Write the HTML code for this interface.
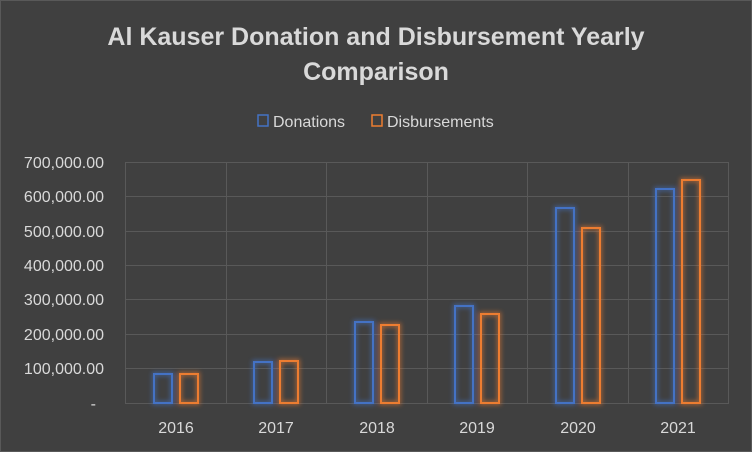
<!DOCTYPE html>
<html><head><style>
body{margin:0;background:#404040;}
svg{display:block;font-family:"Liberation Sans",sans-serif;}
</style></head><body>
<svg width="752" height="452" viewBox="0 0 752 452">
<defs>
<filter id="gb" x="-50%" y="-50%" width="200%" height="200%"><feGaussianBlur stdDeviation="2.5"/></filter>
</defs>
<rect x="0" y="0" width="752" height="452" fill="#404040"/>
<rect x="0.5" y="0.5" width="751" height="451" fill="none" stroke="#595959"/>
<text x="376" y="45" fill="#d9d9d9" font-size="25" font-weight="bold" text-anchor="middle">Al Kauser Donation and Disbursement Yearly</text>
<text x="376" y="80" fill="#d9d9d9" font-size="25" font-weight="bold" text-anchor="middle">Comparison</text>
<rect x="258" y="115" width="10" height="11" fill="none" stroke="#4472c4" stroke-width="1.5"/>
<text x="273" y="127" fill="#d9d9d9" font-size="16">Donations</text>
<rect x="372" y="115" width="10" height="11" fill="none" stroke="#ed7d31" stroke-width="1.5"/>
<text x="387" y="127" fill="#d9d9d9" font-size="16">Disbursements</text>
<g stroke="#595959" stroke-width="1">
<line x1="125" y1="162.5" x2="729" y2="162.5"/>
<line x1="125" y1="196.5" x2="729" y2="196.5"/>
<line x1="125" y1="231.5" x2="729" y2="231.5"/>
<line x1="125" y1="265.5" x2="729" y2="265.5"/>
<line x1="125" y1="299.5" x2="729" y2="299.5"/>
<line x1="125" y1="334.5" x2="729" y2="334.5"/>
<line x1="125" y1="368.5" x2="729" y2="368.5"/>
<line x1="125" y1="403.5" x2="729" y2="403.5"/>
<line x1="125.5" y1="162" x2="125.5" y2="403"/>
<line x1="226.5" y1="162" x2="226.5" y2="403"/>
<line x1="326.5" y1="162" x2="326.5" y2="403"/>
<line x1="427.5" y1="162" x2="427.5" y2="403"/>
<line x1="527.5" y1="162" x2="527.5" y2="403"/>
<line x1="628.5" y1="162" x2="628.5" y2="403"/>
<line x1="728.5" y1="162" x2="728.5" y2="403"/>
</g>
<g fill="#d9d9d9" font-size="16" text-anchor="end">
<text x="104" y="168">700,000.00</text>
<text x="104" y="202">600,000.00</text>
<text x="104" y="237">500,000.00</text>
<text x="104" y="271">400,000.00</text>
<text x="104" y="305">300,000.00</text>
<text x="104" y="340">200,000.00</text>
<text x="104" y="374">100,000.00</text>
<text x="96" y="409">-</text>
</g>
<g fill="#d9d9d9" font-size="16" text-anchor="middle">
<text x="176" y="433">2016</text>
<text x="276" y="433">2017</text>
<text x="377" y="433">2018</text>
<text x="477" y="433">2019</text>
<text x="578" y="433">2020</text>
<text x="678" y="433">2021</text>
</g>
<g fill="none" stroke-width="4" opacity="0.6" filter="url(#gb)">
<g stroke="#4472c4">
<rect x="154" y="374" width="18" height="29"/><rect x="254" y="362" width="18" height="41"/><rect x="355" y="322" width="18" height="81"/><rect x="455" y="306" width="18" height="97"/><rect x="556" y="208" width="18" height="195"/><rect x="656" y="189" width="18" height="214"/>
</g>
<g stroke="#ed7d31">
<rect x="180" y="374" width="18" height="29"/><rect x="280" y="361" width="18" height="42"/><rect x="381" y="325" width="18" height="78"/><rect x="481" y="314" width="18" height="89"/><rect x="582" y="228" width="18" height="175"/><rect x="682" y="180" width="18" height="223"/>
</g>
</g>
<g fill="none" stroke-width="2">
<g stroke="#4472c4">
<rect x="154" y="374" width="18" height="29"/><rect x="254" y="362" width="18" height="41"/><rect x="355" y="322" width="18" height="81"/><rect x="455" y="306" width="18" height="97"/><rect x="556" y="208" width="18" height="195"/><rect x="656" y="189" width="18" height="214"/>
</g>
<g stroke="#ed7d31">
<rect x="180" y="374" width="18" height="29"/><rect x="280" y="361" width="18" height="42"/><rect x="381" y="325" width="18" height="78"/><rect x="481" y="314" width="18" height="89"/><rect x="582" y="228" width="18" height="175"/><rect x="682" y="180" width="18" height="223"/>
</g>
</g>
</svg>
</body></html>
